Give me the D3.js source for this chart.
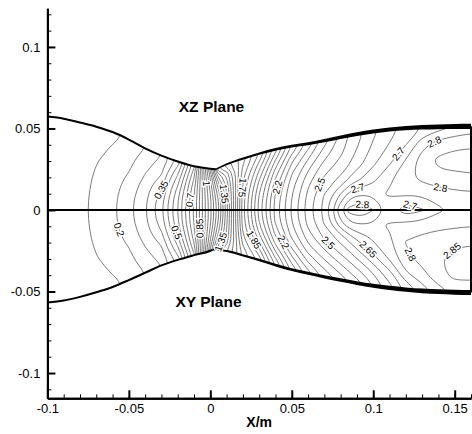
<!DOCTYPE html>
<html>
<head>
<meta charset="utf-8">
<script src="https://cdn.jsdelivr.net/npm/d3@7"></script>
<style>
  body { margin: 0; background: #fff; }
  svg { display: block; font-family: "Liberation Sans", Arial, Helvetica, sans-serif; }
</style>
</head>
<body>
<svg id="chart" width="472" height="434"></svg>
<script>
// ---- Nozzle Mach-number field: XZ plane (upper half) and XY plane (lower half) ----

// axial stations (m)
const xStations = [-0.10,-0.09,-0.08,-0.07,-0.06,-0.05,-0.04,-0.03,-0.02,-0.01,0,0.005,0.01,0.02,0.03,0.04,0.05,0.06,0.07,0.08,0.085,0.09,0.095,0.10,0.11,0.12,0.13,0.14,0.15,0.16];

// fraction of the local half-height, wall = 1
const etaLevels = [0.2, 0.4, 0.6, 0.8, 1.0];

// Mach number on the nozzle axis
const machAxis = [0.100,0.118,0.138,0.163,0.190,0.235,0.295,0.390,0.550,0.760,1.035,1.190,1.380,1.780,2.020,2.220,2.360,2.475,2.570,2.745,2.820,2.835,2.830,2.800,2.730,2.665,2.695,2.740,2.765,2.780];

// XZ plane, one row per eta level
const machXZ = [
  [0.099,0.117,0.136,0.161,0.187,0.229,0.288,0.377,0.545,0.758,1.035,1.200,1.385,1.775,2.010,2.210,2.350,2.465,2.555,2.660,2.720,2.745,2.745,2.740,2.755,2.760,2.760,2.775,2.790,2.795],
  [0.096,0.113,0.131,0.156,0.179,0.213,0.272,0.348,0.520,0.745,1.050,1.230,1.400,1.760,1.980,2.180,2.330,2.440,2.520,2.570,2.610,2.640,2.665,2.685,2.740,2.780,2.820,2.840,2.840,2.845],
  [0.091,0.107,0.123,0.147,0.167,0.194,0.248,0.308,0.480,0.722,1.075,1.280,1.430,1.740,1.930,2.130,2.290,2.400,2.480,2.520,2.550,2.580,2.610,2.640,2.690,2.755,2.825,2.860,2.870,2.870],
  [0.084,0.098,0.112,0.135,0.153,0.178,0.224,0.276,0.430,0.690,1.110,1.360,1.480,1.710,1.870,2.060,2.230,2.340,2.430,2.490,2.520,2.550,2.580,2.610,2.655,2.700,2.780,2.820,2.835,2.840],
  [0.075,0.087,0.098,0.120,0.137,0.161,0.200,0.250,0.370,0.640,1.170,1.500,1.580,1.680,1.800,1.980,2.150,2.270,2.380,2.460,2.500,2.530,2.560,2.590,2.630,2.670,2.700,2.730,2.750,2.770]
];

// XY plane, one row per eta level
const machXY = [
  [0.099,0.117,0.136,0.161,0.187,0.229,0.288,0.377,0.545,0.758,1.035,1.200,1.385,1.775,2.005,2.210,2.350,2.465,2.555,2.680,2.730,2.745,2.745,2.740,2.755,2.775,2.780,2.790,2.795,2.800],
  [0.096,0.113,0.131,0.156,0.179,0.213,0.272,0.348,0.520,0.745,1.050,1.220,1.395,1.760,1.970,2.170,2.320,2.430,2.510,2.575,2.615,2.655,2.680,2.700,2.740,2.802,2.820,2.830,2.840,2.845],
  [0.091,0.107,0.123,0.147,0.167,0.194,0.248,0.308,0.480,0.722,1.075,1.260,1.410,1.735,1.910,2.110,2.265,2.380,2.450,2.510,2.540,2.575,2.610,2.645,2.715,2.790,2.815,2.845,2.870,2.875],
  [0.084,0.098,0.112,0.135,0.153,0.178,0.224,0.276,0.430,0.690,1.110,1.320,1.440,1.700,1.840,2.030,2.190,2.310,2.380,2.440,2.470,2.500,2.530,2.565,2.640,2.740,2.785,2.830,2.865,2.860],
  [0.075,0.087,0.098,0.120,0.137,0.161,0.200,0.250,0.370,0.640,1.170,1.420,1.500,1.660,1.770,1.950,2.110,2.230,2.310,2.370,2.400,2.430,2.460,2.500,2.580,2.660,2.720,2.780,2.810,2.820]
];

// wall contours (m): converging and diverging parts meet at the throat
const upperConvX = [-0.10,-0.09,-0.08,-0.07,-0.06,-0.05,-0.04,-0.03,-0.02,-0.01,0,0.0036];
const upperConvY = [0.0573,0.0560,0.0537,0.0511,0.0478,0.0432,0.0378,0.0333,0.0297,0.0268,0.0253,0.0250];
const upperDivX  = [0.0036,0.01,0.02,0.03,0.04,0.05,0.06,0.07,0.08,0.09,0.10,0.11,0.12,0.13,0.14,0.15,0.16];
const upperDivY  = [0.0250,0.0280,0.0315,0.0346,0.0372,0.0392,0.0406,0.0425,0.0446,0.0465,0.0481,0.0494,0.0502,0.0507,0.0510,0.0512,0.0513];
const lowerConvX = [-0.10,-0.09,-0.08,-0.07,-0.06,-0.05,-0.04,-0.03,-0.02,-0.01,0,0.0014];
const lowerConvY = [-0.0567,-0.0555,-0.0533,-0.0505,-0.0472,-0.0430,-0.0385,-0.0340,-0.0306,-0.0277,-0.0250,-0.0243];
const lowerDivX  = [0.0014,0.01,0.02,0.03,0.04,0.05,0.06,0.07,0.08,0.09,0.10,0.11,0.12,0.13,0.14,0.15,0.16];
const lowerDivY  = [-0.0243,-0.0252,-0.0278,-0.0307,-0.0338,-0.0366,-0.0388,-0.0410,-0.0430,-0.0448,-0.0465,-0.0478,-0.0488,-0.0496,-0.0501,-0.0504,-0.0506];

// axis ticks
const xMajor = [-0.1,-0.05,0,0.05,0.1,0.15];
const xTickLabels = ["-0.1","-0.05","0","0.05","0.1","0.15"];
const xMinor = d3.range(-10, 17).map(k => k / 100);
const yMajor = [-0.1,-0.05,0,0.05,0.1];
const yTickLabels = ["-0.1","-0.05","0","0.05","0.1"];
const yMinor = d3.range(-11, 13).map(k => k / 100);

// contour levels and inline labels (level, x, y, text angle)
const levels = d3.range(3, 58).map(k => +(k * 0.05).toFixed(2));
const labelLevel = [0.35,0.7,1,1.35,1.75,2.2,2.5,2.7,2.8,2.7,2.7,2.8,2.8, 0.2,0.5,0.85,1.35,1.85,2.2,2.5,2.65,2.8,2.85];
const labelX = [-0.030,-0.0125,-0.0004,0.0118,0.024,0.044,0.068,0.0904,0.0935,0.123,0.1149,0.1394,0.1414, -0.0568,-0.0245,-0.0055,0.0078,0.0282,0.0455,0.073,0.0965,0.124,0.1455];
const labelY = [0.0123,0.0061,0.0164,0.0102,0.0133,0.0133,0.0153,0.0133,0.0061,0.0041,0.0348,0.0379,0.0143, -0.0123,-0.0153,-0.0112,-0.020,-0.0174,-0.0194,-0.0194,-0.0245,-0.0266,-0.0215];
const labelAngle = [-90,80,75,60,60,70,-25,-15,0,0,-55,-35,0, 90,-90,-80,-60,-50,60,50,50,55,-5];

// ---- scales ----
const svg = d3.select("#chart");
const sx = d3.scaleLinear().domain([-0.1, 0.16]).range([47.4, 471]);
const sy = d3.scaleLinear().domain([-0.1155, 0.1237]).range([398.3, 8.3]);

const wallUp = d3.scaleLinear()
  .domain(upperConvX.concat(upperDivX.slice(1)))
  .range(upperConvY.concat(upperDivY.slice(1))).clamp(true);
const wallLo = d3.scaleLinear()
  .domain(lowerConvX.concat(lowerDivX.slice(1)))
  .range(lowerConvY.concat(lowerDivY.slice(1))).clamp(true);

// ---- grid in (x, eta): XY rows below the axis, XZ rows above, one padding row/column outside the walls and exit ----
const etaGrid = [-1.2].concat(etaLevels.slice().reverse().map(e => -e), [0], etaLevels, [1.2]);
const rowSource = [machXY[4]].concat(machXY.slice().reverse(), [machAxis], machXZ, [machXZ[4]]);
const gridX = xStations.concat([0.17]);
const n = gridX.length, m = etaGrid.length;
const values = new Array(n * m);
for (let j = 0; j < m; j++)
  for (let i = 0; i < n; i++)
    values[j * n + i] = rowSource[j][Math.min(i, xStations.length - 1)];

const contours = d3.contours().size([n, m]).thresholds(levels)(values);

const colScale = d3.scaleLinear().domain(d3.range(n)).range(gridX).clamp(true);
const rowScale = d3.scaleLinear().domain(d3.range(m)).range(etaGrid).clamp(true);
function toPlane(pt) {
  const x = colScale(pt[0] - 0.5), eta = rowScale(pt[1] - 0.5);
  const y = eta >= 0 ? eta * wallUp(x) : -eta * wallLo(x);
  return { px: sx(x), py: sy(y), inside: Math.abs(eta) <= 1.0001 && x <= 0.1601 };
}

const levelRings = new Map();
contours.forEach(c => {
  const rings = [];
  c.coordinates.forEach(poly => poly.forEach(ring => {
    const pts = ring.slice(0, -1).map(toPlane).filter((p, k, a) =>
      k === 0 || Math.abs(p.px - a[k - 1].px) > 1e-6 || Math.abs(p.py - a[k - 1].py) > 1e-6);
    if (pts.length > 2) rings.push(pts);
  }));
  levelRings.set(c.value, rings);
});

// ---- clip to nozzle interior ----
const defs = svg.append("defs");
const clip = defs.append("clipPath").attr("id", "nozzle-clip");
const halfArea = d3.area().x(d => sx(d[0])).y0(sy(0)).y1(d => sy(d[1])).curve(d3.curveMonotoneX);
[[upperConvX, upperConvY], [upperDivX, upperDivY], [lowerConvX, lowerConvY], [lowerDivX, lowerDivY]]
  .forEach(([xs, ys]) => clip.append("path").attr("d", halfArea(d3.zip(xs, ys))));

// ---- contour lines ----
const ringLine = d3.line().x(d => d.px).y(d => d.py).curve(d3.curveBasisClosed);
const gC = svg.append("g").attr("clip-path", "url(#nozzle-clip)")
  .attr("fill", "none").attr("stroke", "#6c6c6c").attr("stroke-width", 0.9);
levelRings.forEach(rings => rings.forEach(r => gC.append("path").attr("d", ringLine(r))));

// ---- walls, axis of symmetry, exit plane ----
const wallLine = d3.line().x(d => sx(d[0])).y(d => sy(d[1])).curve(d3.curveMonotoneX);
[[upperConvX, upperConvY], [lowerConvX, lowerConvY]].forEach(([xs, ys]) =>
  svg.append("path").attr("d", wallLine(d3.zip(xs, ys)))
    .attr("fill", "none").attr("stroke", "#000").attr("stroke-width", 2));

function divergentBand(xs) {
  const x0 = xs[0], x1 = xs[xs.length - 1];
  const t = x => 1.8 + 3.4 * (x - x0) / (x1 - x0);
  return d3.area().x(d => sx(d[0]))
    .y0(d => sy(d[1]) - t(d[0]) / 2).y1(d => sy(d[1]) + t(d[0]) / 2)
    .curve(d3.curveMonotoneX);
}
[[upperDivX, upperDivY], [lowerDivX, lowerDivY]].forEach(([xs, ys]) =>
  svg.append("path").attr("d", divergentBand(xs)(d3.zip(xs, ys))).attr("fill", "#000"));

svg.append("line")
  .attr("x1", sx(-0.1)).attr("x2", sx(0.16)).attr("y1", sy(0)).attr("y2", sy(0))
  .attr("stroke", "#000").attr("stroke-width", 1.8);
svg.append("line")
  .attr("x1", sx(0.16)).attr("x2", sx(0.16))
  .attr("y1", sy(lowerDivY[lowerDivY.length - 1])).attr("y2", sy(upperDivY[upperDivY.length - 1]))
  .attr("stroke", "#000").attr("stroke-width", 2);

// ---- inline contour labels, placed on the nearest line of their level ----
function snap(level, ax, ay) {
  let best = null;
  (levelRings.get(level) || []).forEach(r => {
    for (let k = 0; k < r.length; k++) {
      const p = r[k], q = r[(k + 1) % r.length];
      if (!p.inside || !q.inside) continue;
      const dx = q.px - p.px, dy = q.py - p.py, L2 = dx * dx + dy * dy;
      if (L2 === 0) continue;
      let t = ((ax - p.px) * dx + (ay - p.py) * dy) / L2;
      t = Math.max(0, Math.min(1, t));
      const cx = p.px + t * dx, cy = p.py + t * dy, d = Math.hypot(ax - cx, ay - cy);
      if (!best || d < best.d) best = { d, x: cx, y: cy, ang: Math.atan2(dy, dx) * 180 / Math.PI };
    }
  });
  return best;
}
const gL = svg.append("g").attr("font-size", 10).attr("text-anchor", "middle");
labelLevel.forEach((lev, i) => {
  const ax = sx(labelX[i]), ay = sy(labelY[i]);
  let x = ax, y = ay, a = labelAngle[i];
  const s = snap(lev, ax, ay);
  if (s && s.d < 18) {
    x = s.x; y = s.y;
    let ang = s.ang;
    while (ang - a > 90) ang -= 180;
    while (ang - a <= -90) ang += 180;
    if (ang > 95) ang -= 180;
    if (ang < -95) ang += 180;
    a = ang;
  }
  gL.append("text")
    .attr("transform", `translate(${x},${y}) rotate(${a})`)
    .attr("dy", "0.36em")
    .attr("fill", "#000").attr("stroke", "#fff").attr("stroke-width", 3)
    .attr("paint-order", "stroke").attr("stroke-linejoin", "round")
    .text(String(lev));
});

// ---- plane captions ----
svg.append("text").attr("x", 211.5).attr("y", 111.5).attr("text-anchor", "middle")
  .attr("font-size", 15.5).attr("font-weight", "bold").text("XZ Plane");
svg.append("text").attr("x", 208.5).attr("y", 306.5).attr("text-anchor", "middle")
  .attr("font-size", 15.5).attr("font-weight", "bold").text("XY Plane");

// ---- axes ----
function styleAxis(g, w) {
  g.select(".domain").attr("stroke", "#000").attr("stroke-width", 2);
  g.selectAll(".tick line").attr("stroke", "#000").attr("stroke-width", w);
  g.selectAll(".tick text").attr("fill", "#000").attr("font-size", 13)
    .attr("font-family", "Liberation Sans, Arial, sans-serif");
}
const xBase = sy(-0.1155), yBase = sx(-0.1);
const gxMinor = svg.append("g").attr("transform", `translate(0,${xBase})`)
  .call(d3.axisBottom(sx).tickValues(xMinor).tickSize(-4).tickSizeOuter(0).tickFormat(""));
styleAxis(gxMinor, 1);
const gxMajor = svg.append("g").attr("transform", `translate(0,${xBase})`)
  .call(d3.axisBottom(sx).tickValues(xMajor).tickSize(-8).tickSizeOuter(0).tickPadding(5)
    .tickFormat((d, i) => xTickLabels[i]));
styleAxis(gxMajor, 2);

const gyMinor = svg.append("g").attr("transform", `translate(${yBase},0)`)
  .call(d3.axisLeft(sy).tickValues(yMinor).tickSize(-4).tickSizeOuter(0).tickFormat(""));
styleAxis(gyMinor, 1);
const gyMajor = svg.append("g").attr("transform", `translate(${yBase},0)`)
  .call(d3.axisLeft(sy).tickValues(yMajor).tickSize(-8).tickSizeOuter(0).tickPadding(7)
    .tickFormat((d, i) => yTickLabels[i]));
styleAxis(gyMajor, 2);

svg.append("text").attr("x", (sx(-0.1) + sx(0.16)) / 2).attr("y", 427)
  .attr("text-anchor", "middle").attr("font-size", 14).attr("font-weight", "bold").text("X/m");
</script>
</body>
</html>
